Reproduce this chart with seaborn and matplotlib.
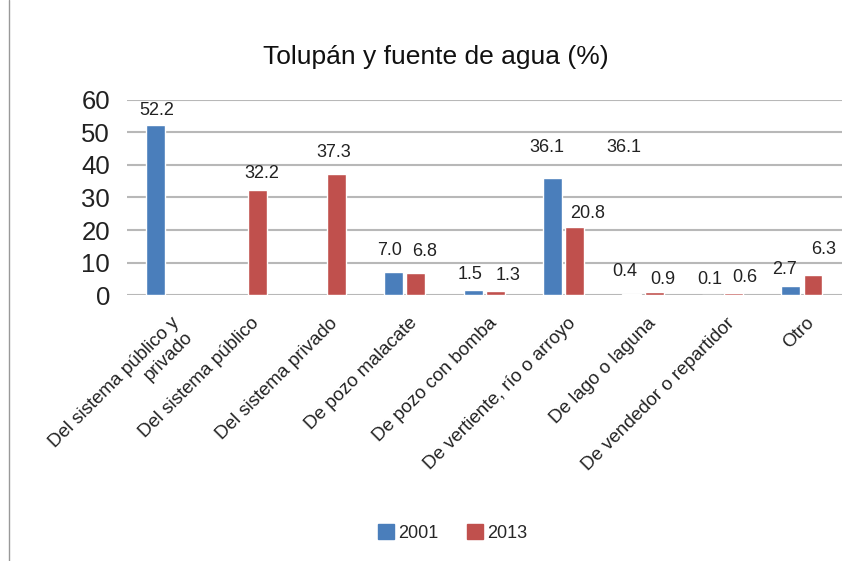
import numpy as np
import pandas as pd
import matplotlib.pyplot as plt
import seaborn as sns
from matplotlib.lines import Line2D
import matplotlib.transforms as mtransforms

# data
categories = ['Del sistema público y\nprivado', 'Del sistema público', 'Del sistema privado',
              'De pozo malacate', 'De pozo con bomba', 'De vertiente, río o arroyo',
              'De lago o laguna', 'De vendedor o repartidor', 'Otro']
years = ['2001', '2013']
vals_2001 = [52.2, np.nan, np.nan, 7.0, 1.5, 36.1, 0.4, 0.1, 2.7]
vals_2013 = [np.nan, 32.2, 37.3, 6.8, 1.3, 20.8, 0.9, 0.6, 6.3]

colors = {'2001': '#4A7EBB', '2013': '#C0504D'}

# label nudges (pixels) copied from the Excel layout: (dx, gap above bar)
nudge_2001 = [(1.5, 6), None, None, (-4, 13), (-3.5, 7), (-5.5, 22), (-7, 14), (-2, 7), (-6.5, 8)]
nudge_2013 = [None, (4.5, 8), (-2.5, 13), (9, 13), (12.5, 7), (12.5, 5), (9, 4), (11, 7), (10.5, 17)]

df = pd.DataFrame({'cat': categories * 2,
                   'year': ['2001'] * len(categories) + ['2013'] * len(categories),
                   'val': vals_2001 + vals_2013})

sns.set_style('white')
plt.rcParams['font.family'] = ['Liberation Sans', 'DejaVu Sans']

fig = plt.figure(figsize=(8.57, 5.61), dpi=100)
ax = fig.add_axes([0.148, 0.474, 0.834, 0.348])

sns.barplot(data=df, x='cat', y='val', hue='year', palette=colors, width=0.56, gap=0.15,
            saturation=1, ax=ax, legend=False)

ax.set_ylim(0, 60)
ax.set_xlim(-0.5, len(categories) - 0.5)
ax.set_yticks(range(0, 61, 10))
ax.yaxis.grid(True, color='#B8B8B8', linewidth=1.5)
ax.set_axisbelow(True)
for s in ax.spines.values():
    s.set_visible(False)
ax.tick_params(axis='y', labelsize=18.5, length=0, pad=12, labelcolor='#222222')
ax.tick_params(axis='x', length=0, pad=14)
ax.set_xlabel('')
ax.set_ylabel('')
ax.set_xticks(range(len(categories)))
ax.set_xticklabels(categories, rotation=45, ha='right', rotation_mode='anchor',
                   fontsize=13.5, color='#222222')
shift = mtransforms.ScaledTranslation(4 / 100, 0, fig.dpi_scale_trans)
for lab in ax.get_xticklabels():
    lab.set_transform(lab.get_transform() + shift)

# data labels
offs = {'2001': -0.14, '2013': 0.14}
for yr, vals, nudges in zip(years, [vals_2001, vals_2013], [nudge_2001, nudge_2013]):
    for i, v in enumerate(vals):
        if np.isnan(v):
            continue
        dx, gap = nudges[i]
        ax.annotate(f'{v:.1f}', (i + offs[yr], v), xytext=(dx * 0.72, gap * 0.72),
                    textcoords='offset points', ha='center', va='bottom',
                    fontsize=13, color='#222222')
# stray label in the original chart (same as the vertiente one)
ax.annotate('36.1', (6 + offs['2001'], 36.1), xytext=(-8 * 0.72, 22 * 0.72),
            textcoords='offset points', ha='center', va='bottom', fontsize=13, color='#222222')

fig.suptitle('Tolupán y fuente de agua (%)', fontsize=19, y=0.92, x=0.508, color='#111111')

handles = [plt.Rectangle((0, 0), 1, 1, color=colors[y]) for y in years]
fig.legend(handles, years, loc='center', bbox_to_anchor=(0.528, 0.05), ncol=2, frameon=False,
           fontsize=13, handlelength=0.9, handleheight=0.9, handletextpad=0.2, columnspacing=1.6)

fig.add_artist(Line2D([0.011, 0.011], [0, 1], color='#999999', linewidth=1))

fig.savefig('out.png', dpi=100)
